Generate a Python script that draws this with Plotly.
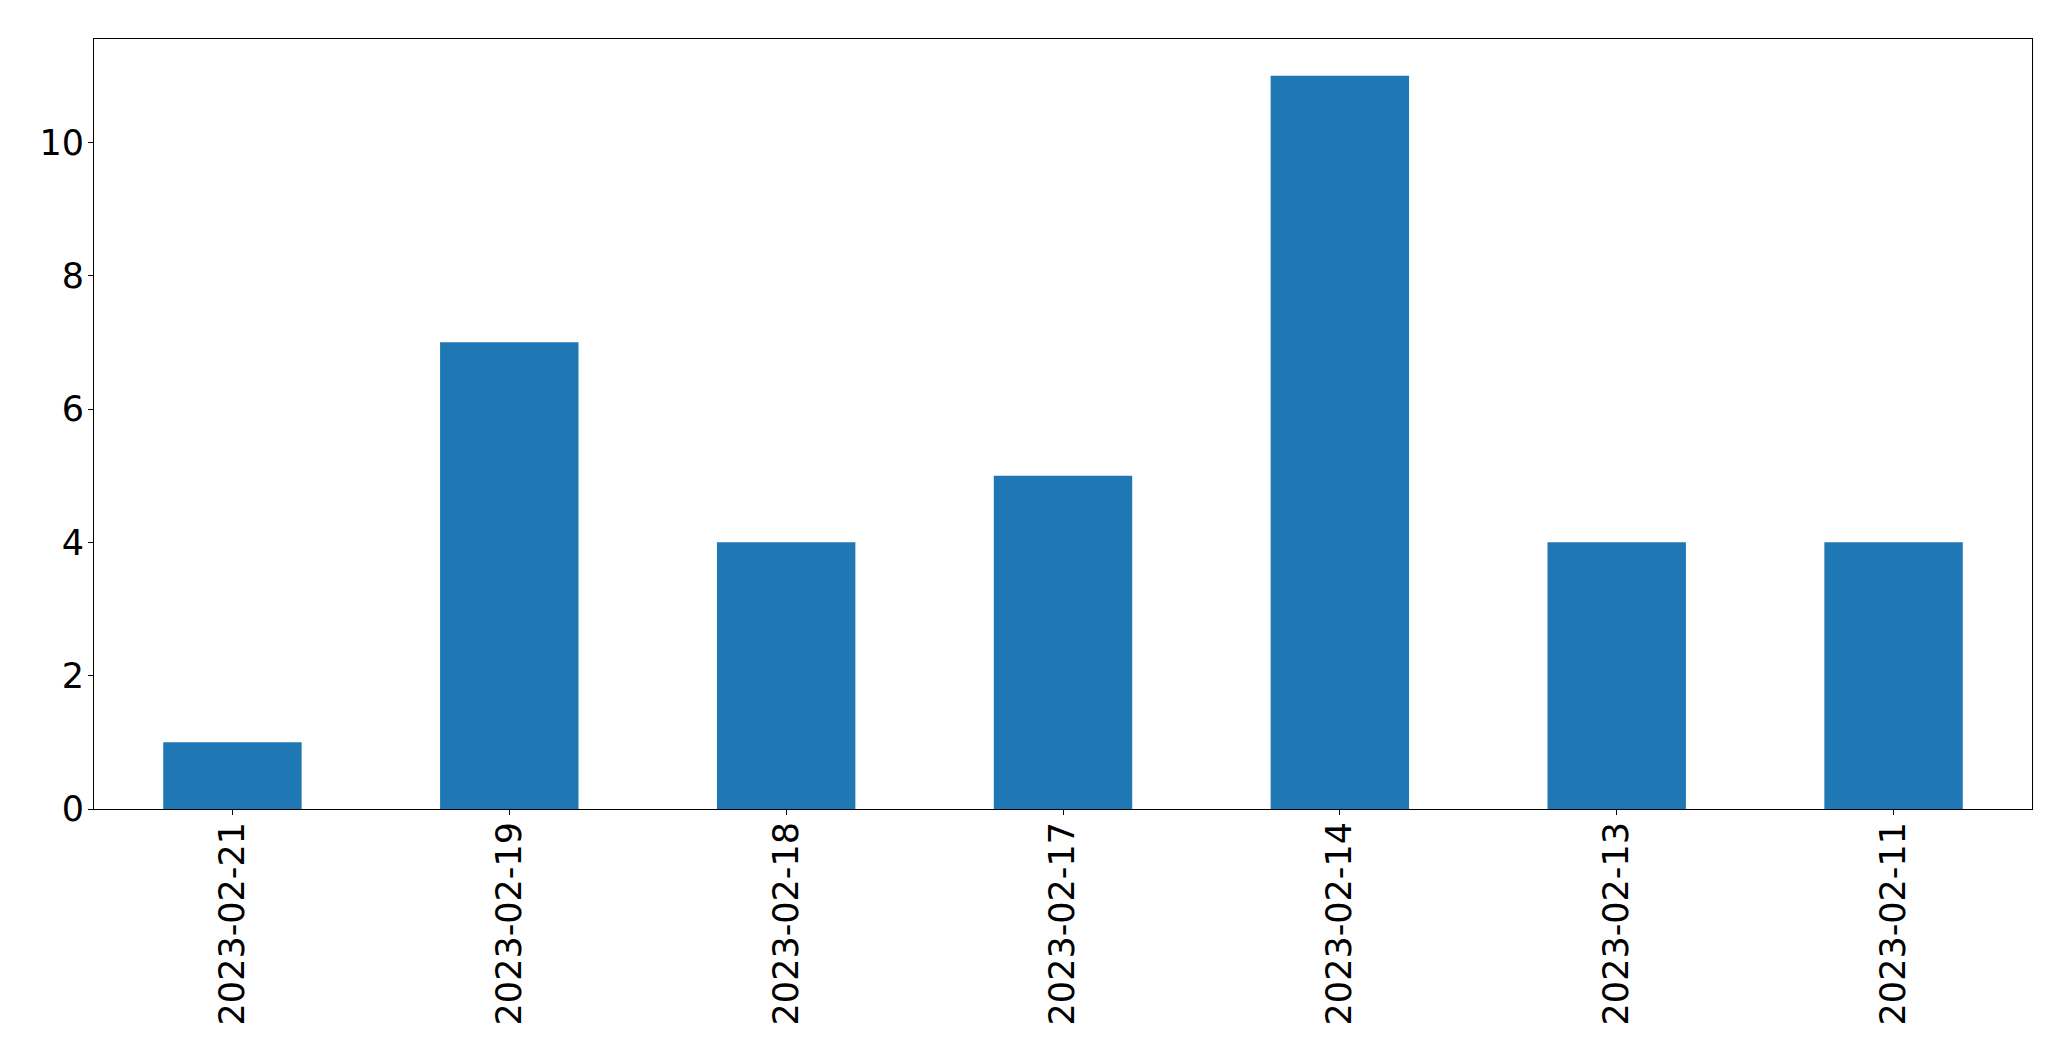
import plotly.graph_objects as go

dates = ["2023-02-21", "2023-02-19", "2023-02-18", "2023-02-17", "2023-02-14", "2023-02-13", "2023-02-11"]
counts = [1, 7, 4, 5, 11, 4, 4]
y_ticks = [0, 2, 4, 6, 8, 10]

fig = go.Figure(go.Bar(x=dates, y=counts, width=0.5, marker=dict(color="#1f77b4", line=dict(width=0))))

font = dict(family="DejaVu Sans", size=35, color="black")
fig.update_layout(
    width=2063, height=1053,
    margin=dict(l=86, r=39, t=31, b=252),
    paper_bgcolor="white", plot_bgcolor="white",
    showlegend=False,
    font=font,
)
fig.update_xaxes(
    type="category", range=[-0.5, 6.5], tickangle=-90,
    showline=True, linecolor="black", linewidth=1, mirror=True,
    ticks="outside", ticklen=5, tickcolor="black", tickwidth=1,
    showgrid=False, zeroline=False, tickfont=font, ticklabelstandoff=-7,
)
fig.update_yaxes(
    range=[0, 11.55], tickvals=y_ticks,
    showline=True, linecolor="black", linewidth=1, mirror=True,
    ticks="outside", ticklen=5, tickcolor="black", tickwidth=1,
    showgrid=False, zeroline=False, tickfont=font, ticklabelstandoff=-3,
)
fig.write_html("out.html")
